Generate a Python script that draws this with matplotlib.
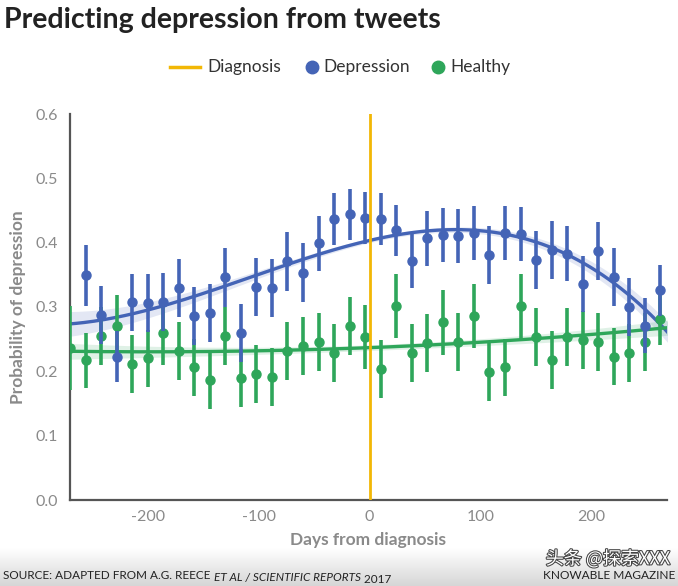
import numpy as np
import matplotlib
matplotlib.use("Agg")
from matplotlib import pyplot as plt
from matplotlib.lines import Line2D
import matplotlib.patheffects as pe

# days relative to diagnosis (bin centres)
days_dep = [-256, -242, -228, -214, -200, -186, -172, -158, -144, -130,
            -116, -102, -88, -74, -60, -46, -32, -18, -4, 10,
            24, 38, 52, 66, 80, 94, 108, 122, 136, 150,
            164, 178, 192, 206, 220, 234, 248, 262]
days_hea = [-270] + days_dep

# mean probability of depression per bin
dep_vals = [0.349, 0.288, 0.223, 0.307, 0.306, 0.308, 0.329, 0.286, 0.290, 0.346,
            0.260, 0.331, 0.329, 0.371, 0.353, 0.399, 0.437, 0.444, 0.438, 0.437,
            0.419, 0.372, 0.407, 0.412, 0.410, 0.415, 0.381, 0.415, 0.414, 0.373,
            0.389, 0.383, 0.336, 0.387, 0.347, 0.300, 0.271, 0.326]
hea_vals = [0.236, 0.217, 0.255, 0.270, 0.211, 0.220, 0.260, 0.231, 0.206, 0.187,
            0.255, 0.189, 0.196, 0.191, 0.231, 0.240, 0.245, 0.228, 0.271, 0.253,
            0.203, 0.302, 0.229, 0.244, 0.276, 0.246, 0.286, 0.199, 0.206, 0.301,
            0.254, 0.218, 0.253, 0.249, 0.246, 0.223, 0.229, 0.245, 0.281]

# error bar half widths
dep_err = [0.048, 0.045, 0.040, 0.045, 0.045, 0.045, 0.045, 0.045, 0.045, 0.046,
           0.045, 0.045, 0.045, 0.046, 0.046, 0.043, 0.040, 0.040, 0.040, 0.040,
           0.040, 0.043, 0.043, 0.042, 0.042, 0.042, 0.045, 0.042, 0.042, 0.045,
           0.045, 0.043, 0.043, 0.045, 0.045, 0.045, 0.043, 0.040]
hea_err = [0.065, 0.043, 0.045, 0.049, 0.045, 0.045, 0.050, 0.045, 0.045, 0.045,
           0.045, 0.045, 0.045, 0.045, 0.045, 0.045, 0.045, 0.045, 0.045, 0.050,
           0.045, 0.050, 0.045, 0.045, 0.050, 0.045, 0.050, 0.045, 0.045, 0.050,
           0.045, 0.045, 0.045, 0.045, 0.045, 0.045, 0.045, 0.045, 0.040]

# trend curves, with their band half widths
trend_days = [-267, -214, -159, -103, -48, -6, 22, 64, 92, 132, 162, 189, 216, 231, 245, 263]
trend_dep = [0.272, 0.293, 0.316, 0.347, 0.381, 0.402, 0.412, 0.417, 0.417, 0.412,
             0.394, 0.371, 0.347, 0.324, 0.298, 0.270]
band_dep = [0.020, 0.012, 0.008, 0.006, 0.005, 0.005, 0.005, 0.005, 0.005, 0.005,
            0.006, 0.007, 0.009, 0.011, 0.014, 0.020]
trend_hea_days = [-267, -153, -6, 92, 134, 201, 263]
trend_hea = [0.231, 0.231, 0.236, 0.244, 0.250, 0.257, 0.267]
band_hea = [0.012, 0.007, 0.005, 0.005, 0.006, 0.008, 0.012]

xticks = [-200, -100, 0, 100, 200]
yticks = [0.0, 0.1, 0.2, 0.3, 0.4, 0.5, 0.6]

BLUE = "#4464b6"
GREEN = "#2ea65a"
ORANGE = "#f2b705"
GREY = "#8a8a8a"

plt.rcParams['font.family'] = ['Lato', 'DejaVu Sans']
plt.rcParams['axes.unicode_minus'] = False

W, H = 678, 586
fig = plt.figure(figsize=(6.78, 5.86), dpi=100)
ax = fig.add_axes([70 / W, 1 - 500 / H, 597 / W, 386 / H])

xs = np.linspace(-272, 272, 300)
for tx, ty, tb, c in [(trend_days, trend_dep, band_dep, BLUE),
                      (trend_hea_days, trend_hea, band_hea, GREEN)]:
    # smooth cubic through the curve readings
    fit = np.polyval(np.polyfit(tx, ty, 3), xs)
    half = np.polyval(np.polyfit(tx, tb, 2), xs)
    ax.fill_between(xs, fit - half, fit + half, color=c, alpha=0.15, lw=0, zorder=1)
    ax.plot(xs, fit, color=c, lw=2.4, zorder=2)

ax.errorbar(days_hea, hea_vals, yerr=hea_err, fmt='o', color=GREEN, ms=6.5,
            elinewidth=2.6, capsize=0, zorder=3)
ax.errorbar(days_dep, dep_vals, yerr=dep_err, fmt='o', color=BLUE, ms=6.5,
            elinewidth=2.6, capsize=0, zorder=4)

ax.axvline(0, color=ORANGE, lw=2, zorder=5)

ax.set_xlim(-270, 268)
ax.set_ylim(0, 0.6)
ax.set_xticks(xticks)
ax.set_yticks(yticks)
ax.set_yticklabels(["%.1f" % v for v in yticks])
for s in ['top', 'right']:
    ax.spines[s].set_visible(False)
for s in ['left', 'bottom']:
    ax.spines[s].set_color("#555555")
    ax.spines[s].set_linewidth(1.6)
ax.tick_params(length=0, labelsize=11.5, labelcolor=GREY, pad=9)
ax.tick_params(axis='x', pad=7)
ax.set_xlabel("Days from diagnosis", fontsize=12.5, fontweight='bold', color=GREY, labelpad=6)
ax.set_ylabel("Probability of depression", fontsize=12.5, fontweight='bold', color=GREY)
ax.yaxis.set_label_coords(-44 / 597, 0.5)

fig.text(0.006, 1 - 20 / H, "Predicting depression from tweets", fontsize=20.5, fontweight='bold',
         color="#222222", va='center', ha='left')

# legend row
ly = 1 - 67 / H
fig.add_artist(Line2D([170 / W, 200 / W], [ly, ly], color=ORANGE, lw=2.5, transform=fig.transFigure))
fig.add_artist(Line2D([312 / W], [ly], marker='o', ms=9, color=BLUE, ls='', transform=fig.transFigure))
fig.add_artist(Line2D([438 / W], [ly], marker='o', ms=9, color=GREEN, ls='', transform=fig.transFigure))
for lx, lab in [(207, "Diagnosis"), (323, "Depression"), (450, "Healthy")]:
    fig.text(lx / W, ly, lab, fontsize=12.5, color="#333333", va='center', ha='left')

# footer band
band = fig.add_axes([0, 0, 1, 38 / H], zorder=-1)
grad = np.linspace(1.0, 0.84, 50).reshape(-1, 1, 1) * np.ones((1, 1, 3))
band.imshow(grad, aspect='auto', extent=[0, 1, 0, 1], origin='upper')
band.axis('off')

t1 = fig.text(0.005, 0.012, "SOURCE: ADAPTED FROM A.G. REECE ", fontsize=8.5, color="#222222")
t2 = ax.annotate("ET AL / SCIENTIFIC REPORTS", xy=(1, 0), xycoords=t1, fontsize=8.5,
                 style='italic', color="#222222", annotation_clip=False)
ax.annotate(" 2017", xy=(1, 0), xycoords=t2, fontsize=8.5, color="#222222", annotation_clip=False)
fig.text(0.996, 0.012, "KNOWABLE MAGAZINE", fontsize=8.6, color="#222222", ha='right')

fig.text(0.988, 1 - 559 / H, "头条 @探索XXX", fontsize=13, color="white", ha='right', va='center',
         family=['Noto Sans CJK SC', 'DejaVu Sans'],
         path_effects=[pe.withStroke(linewidth=1.5, foreground="#444444")])

fig.savefig("out.png", dpi=100)
